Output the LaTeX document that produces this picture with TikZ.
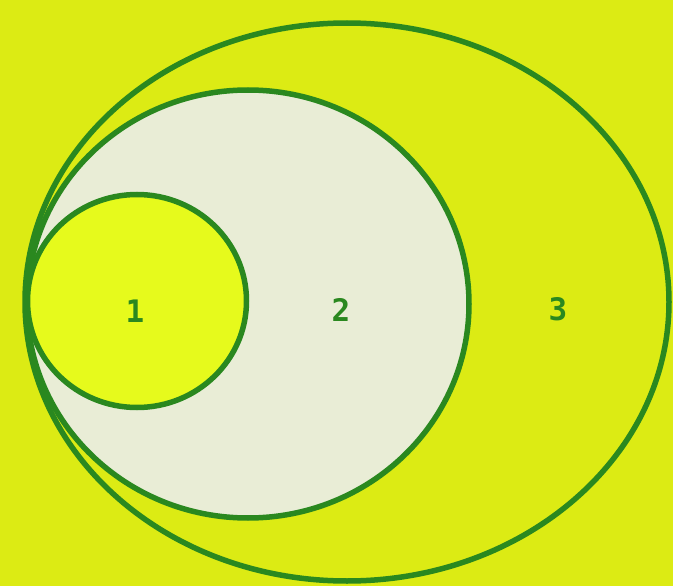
\documentclass[tikz,border=0pt]{standalone}
\usepackage{fontspec}
\newfontfamily\labfont{DejaVu Sans Mono}
\usetikzlibrary{shapes.geometric}
\definecolor{bgyellow}{HTML}{DCEB14}
\definecolor{inyellow}{HTML}{E6FA1C}
\definecolor{cream}{HTML}{E9EDD6}
\definecolor{ringgreen}{HTML}{2A881F}
\begin{document}
\begin{tikzpicture}[x=1pt,y=-1pt,
  ring/.style={draw=ringgreen,line width=5.5pt,ellipse,inner sep=0pt},
  lab/.style={text=ringgreen,font=\labfont\bfseries\fontsize{31}{31}\selectfont,inner sep=0pt}]
\fill[bgyellow] (0,0) rectangle (673,586);
\useasboundingbox (0,0) rectangle (673,586);
\node[ring,minimum width=644pt,minimum height=558pt] (c3) at (347,302) {};
\node[ring,fill=cream,minimum width=442pt,minimum height=428pt] (c2) at (248,304) {};
\node[ring,fill=inyellow,minimum width=219pt,minimum height=213pt] (c1) at (137,301) {};
\node[lab] (l1) at (135,311) {1};
\node[lab] (l2) at (341,310) {2};
\node[lab] (l3) at (558,309) {3};
\end{tikzpicture}
\end{document}
